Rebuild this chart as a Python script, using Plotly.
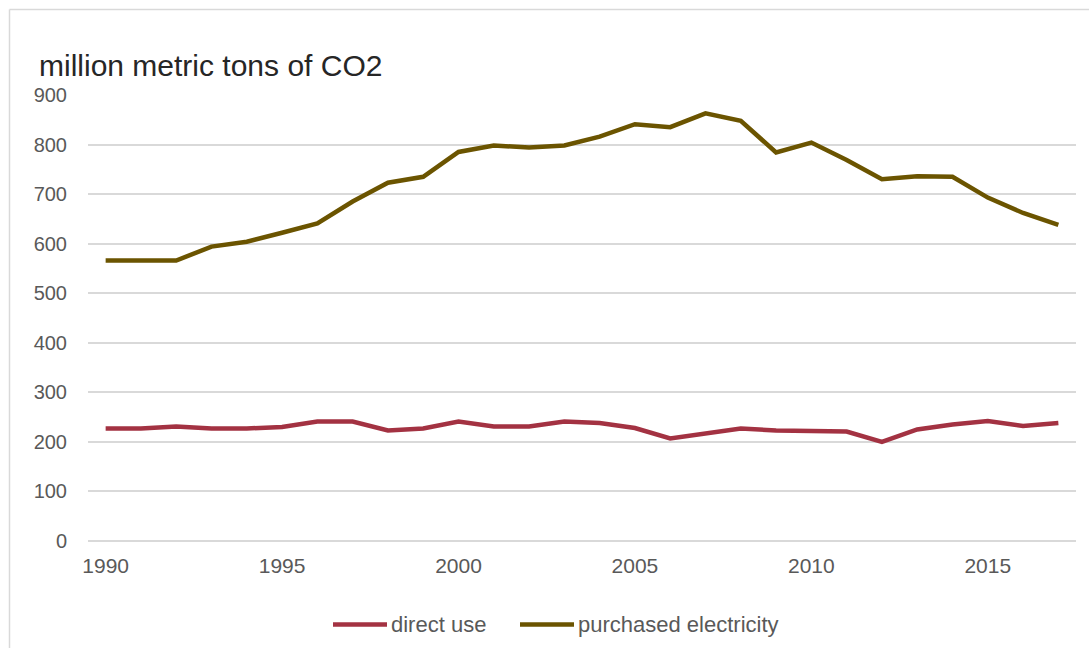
import plotly.graph_objects as go

# Annual CO2 emissions, million metric tons
years = list(range(1990, 2018))
direct_use = [227, 227, 231, 227, 227, 230, 241, 241, 223, 227,
              241, 231, 231, 241, 238, 228, 207, 217, 227, 223,
              221, 221, 200, 225, 235, 242, 232, 238]
purchased_electricity = [566, 566, 566, 594, 604, 622, 641, 685, 723, 735,
                         785, 798, 794, 798, 816, 841, 835, 863, 848, 784,
                         804, 769, 730, 736, 735, 693, 662, 638]
series_names = ["direct use", "purchased electricity"]
series_colors = ["#a33242", "#6b5400"]
y_ticks = [0, 100, 200, 300, 400, 500, 600, 700, 800, 900]
x_ticks = [1990, 1995, 2000, 2005, 2010, 2015]

W, H = 1089, 648
L, R, T, B = 88, 13, 95, 107
pw, ph = W - L - R, H - T - B

FONT = "Liberation Sans, Arial, sans-serif"
GRID = "#d9d9d9"
TEXT = "#595959"


def px_x(px):
    return (px - L) / pw


def px_y(py):
    return (H - B - py) / ph


fig = go.Figure()
for name, values, color in zip(series_names, [direct_use, purchased_electricity], series_colors):
    fig.add_trace(go.Scatter(x=years, y=values, mode="lines", name=name,
                             line=dict(color=color, width=4.5), showlegend=False))

# light frame around the chart
fig.add_shape(type="line", xref="paper", yref="paper",
              x0=px_x(9.5), x1=px_x(W), y0=px_y(9.5), y1=px_y(9.5),
              line=dict(color="#d9d9d9", width=1.5))
fig.add_shape(type="line", xref="paper", yref="paper",
              x0=px_x(9.5), x1=px_x(9.5), y0=px_y(9.5), y1=px_y(H),
              line=dict(color="#d9d9d9", width=1.5))

# legend row below the plot: line sample followed by its label
legend_y = px_y(624.5)
legend_items = [(333, 387, 389), (520, 574, 576)]
for (x0, x1, tx), name, color in zip(legend_items, series_names, series_colors):
    fig.add_shape(type="line", xref="paper", yref="paper",
                  x0=px_x(x0), x1=px_x(x1), y0=legend_y, y1=legend_y,
                  line=dict(color=color, width=4.5))
    fig.add_annotation(xref="paper", yref="paper", x=px_x(tx), y=legend_y,
                       xanchor="left", yanchor="middle", showarrow=False,
                       text=name, font=dict(family=FONT, size=22, color=TEXT))

fig.update_layout(
    width=W, height=H,
    margin=dict(l=L, r=R, t=T, b=B),
    paper_bgcolor="white", plot_bgcolor="white",
    font=dict(family=FONT, color=TEXT, size=20),
    title=dict(text="million metric tons of CO2", xref="container", yref="container",
               x=39 / W, xanchor="left", y=1 - 65 / H, yanchor="middle",
               font=dict(family=FONT, size=30, color="#262626")),
    showlegend=False,
    xaxis=dict(range=[1989.5, 2017.5], tickvals=x_ticks, ticktext=[str(v) for v in x_ticks],
               showgrid=False, showline=False, zeroline=False,
               ticks="outside", ticklen=6, tickcolor="rgba(0,0,0,0)",
               tickfont=dict(family=FONT, size=21, color=TEXT)),
    yaxis=dict(range=[0, 900], tickvals=y_ticks, ticktext=[str(v) for v in y_ticks],
               showgrid=True, gridcolor=GRID, gridwidth=1.5,
               zeroline=True, zerolinecolor=GRID, zerolinewidth=1.5,
               showline=False, ticks="outside", ticklen=16, tickcolor="rgba(0,0,0,0)",
               tickfont=dict(family=FONT, size=20, color=TEXT)),
)

fig.write_html("out.html")
